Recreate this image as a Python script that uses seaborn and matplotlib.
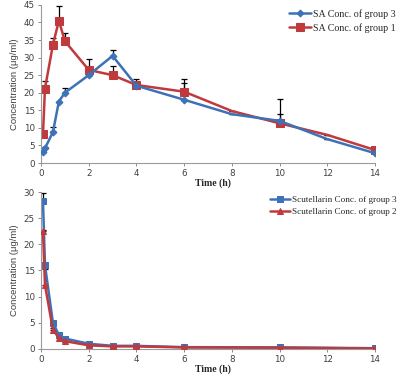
import numpy as np
import pandas as pd
import matplotlib
matplotlib.use("Agg")
import matplotlib.pyplot as plt
import seaborn as sb

# 颜色
blue = '#3d72b8'
red = '#c0393d'

# 上图: SA 浓度
sa_time = [0.083, 0.167, 0.5, 0.75, 1, 2, 3, 4, 6, 8, 10, 12, 14]
sa_g3 = [3.0, 4.2, 8.8, 17.5, 20.0, 25.0, 30.5, 22.0, 18.0, 13.9, 12.0, 6.8, 2.8]
sa_g3_err = [0.3, 0.3, 1.5, 0.0, 1.3, 0.5, 1.7, 1.0, 4.9, 0.0, 6.1, 0.0, 0.0]
sa_g1 = [8.3, 21.2, 33.7, 40.5, 34.7, 26.5, 25.0, 22.2, 20.3, 14.8, 11.3, 8.0, 3.7]
sa_g1_err = [0.5, 2.0, 1.8, 4.2, 2.2, 3.2, 2.6, 1.6, 3.5, 0.0, 2.6, 0.0, 0.3]

# 下图: Scutellarin 浓度
sc_time = [0.083, 0.167, 0.5, 0.75, 1, 2, 3, 4, 6, 10, 14]
sc_g3 = [28.2, 16.0, 5.0, 2.7, 2.0, 1.0, 0.6, 0.6, 0.35, 0.3, 0.15]
sc_g3_err = [1.7, 0.5, 0.3, 0.2, 0.1, 0.1, 0.0, 0.0, 0.0, 0.0, 0.0]
sc_g2 = [22.5, 12.2, 3.7, 2.1, 1.5, 0.7, 0.5, 0.5, 0.3, 0.25, 0.1]
sc_g2_err = [0.3, 3.0, 0.3, 0.2, 0.1, 0.0, 0.0, 0.0, 0.0, 0.0, 0.0]

sb.set_style('white')
plt.rcParams['font.family'] = ['DejaVu Sans']

fig = plt.figure(figsize=[4.0, 3.77], dpi=100)
ax1 = fig.add_axes([0.1025, 0.5676, 0.835, 0.4194])
ax2 = fig.add_axes([0.1025, 0.0743, 0.835, 0.4164])

df_top = pd.DataFrame({'t': sa_time, 'g3': sa_g3, 'g1': sa_g1})
df_bot = pd.DataFrame({'t': sc_time, 'g3': sc_g3, 'g2': sc_g2})

# 误差线只画上半部分
def up_err(ax, x, y, e):
    e = np.array(e)
    ax.errorbar(x, y, yerr=[np.zeros_like(e), e], fmt='none', ecolor='black',
                elinewidth=0.9, capsize=2.5, capthick=0.9, zorder=1)

up_err(ax1, sa_time, sa_g3, sa_g3_err)
up_err(ax1, sa_time, sa_g1, sa_g1_err)
marks = [0, 1, 2, 3, 4, 5, 6, 7, 8, 10, 12]
sb.lineplot(data=df_top, x='t', y='g3', ax=ax1, color=blue, lw=1.8,
            marker='D', ms=3.5, mec=blue, markevery=marks,
            label='SA Conc. of group 3', zorder=3)
sb.lineplot(data=df_top, x='t', y='g1', ax=ax1, color=red, lw=1.8,
            marker='s', ms=5.5, mec=red, markevery=marks,
            label='SA Conc. of group 1', zorder=2)

up_err(ax2, sc_time, sc_g3, sc_g3_err)
up_err(ax2, sc_time, sc_g2, sc_g2_err)
sb.lineplot(data=df_bot, x='t', y='g3', ax=ax2, color=blue, lw=1.8,
            marker='s', ms=4, mec=blue,
            label='Scutellarin Conc. of group 3', zorder=2)
sb.lineplot(data=df_bot, x='t', y='g2', ax=ax2, color=red, lw=1.8,
            marker='^', ms=4, mec=red,
            label='Scutellarin Conc. of group 2', zorder=3)

for ax, top, leg_size in [(ax1, 45, 7.2), (ax2, 30, 6.6)]:
    ax.set_xlim(0, 14)
    ax.set_ylim(0, top)
    ax.set_xticks(np.arange(0, 15, 2))
    ax.set_yticks(np.arange(0, top + 1, 5))
    ax.tick_params(axis='both', labelsize=6.3, colors='#8a8a8a', labelcolor='#404040',
                   length=2.5, width=0.7, direction='out', pad=2)
    ax.tick_params(axis='both', left=True, bottom=True)
    for s in ['top', 'right']:
        ax.spines[s].set_visible(False)
    for s in ['left', 'bottom']:
        ax.spines[s].set_color('#9a9a9a')
        ax.spines[s].set_linewidth(0.8)
    ax.set_ylabel('Concentration (μg/ml)', fontsize=6.8, color='#404040',
                  family='Liberation Sans', labelpad=3)
    ax.set_xlabel('Time (h)', fontsize=7, fontweight='bold', family='Liberation Serif',
                  labelpad=3)
    ax.xaxis.set_label_coords(0.515, -0.1)
    ax.legend(loc='upper right', bbox_to_anchor=(1.09, 1.03), frameon=False,
              prop={'family': 'Liberation Serif', 'size': leg_size}, handlelength=2.2,
              handletextpad=0.2, labelspacing=0.4)

fig.savefig('out.png', dpi=100)
